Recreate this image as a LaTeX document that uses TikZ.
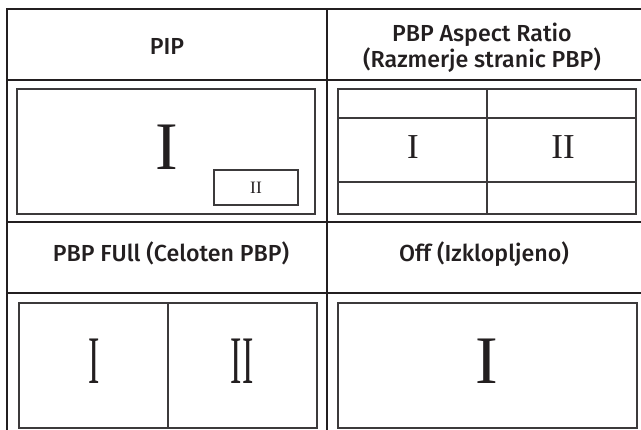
\documentclass[tikz,border=0pt]{standalone}
\usepackage{fontspec}
\usepackage{graphicx}
\setmainfont{Liberation Serif}
\setsansfont{Fira Sans}[BoldFont={Fira Sans Medium}]
\usetikzlibrary{positioning}
\definecolor{Ink}{HTML}{231F20}
\definecolor{Frame}{HTML}{3C3A3B}
\tikzset{
  table line/.style={draw=Ink,line width=1.1pt},
  screen box/.style={draw=Frame,line width=0.55pt},
  mode head/.style={font=\sffamily\bfseries\fontsize{11.6}{13}\selectfont,
    align=center,text=Ink,inner sep=0pt,anchor=base},
  numeral/.style={font=\fontsize{#1}{#1}\selectfont,text=Ink,inner sep=0pt}
}

\begin{document}
\begin{tikzpicture}[x=0.5pt,y=-0.5pt]
  \clip (0,0) rectangle (641,429);
  % table frame
  \draw[table line] (7,9) rectangle (647,436);
  \draw[table line] (327,9) -- (327,436);
  \draw[table line] (7,80) -- (647,80);
  \draw[table line] (7,222) -- (647,222);
  \draw[table line] (7,293) -- (647,293);
  % headers
  \node[mode head] (pip head) at (167,54) {PIP};
  \node[mode head] (aspect head) at (482,67) {PBP Aspect Ratio\\(Razmerje stranic PBP)};
  \node[mode head] (full head) at (171,261) {PBP FUll (Celoten PBP)};
  \node[mode head] (off head) at (484,261) {Off (Izklopljeno)};
  % PIP
  \draw[screen box] (17,89) rectangle (315,214);
  \draw[screen box] (214,170) rectangle (298,205);
  \node[numeral=34] (pip main) at (167,147) {I};
  \node[numeral=8.7] (pip sub) at (256,188) {II};
  % PBP aspect ratio
  \draw[screen box] (338,89) rectangle (636,214);
  \draw[screen box] (487,89) -- (487,214);
  \draw[screen box] (338,118) -- (636,118);
  \draw[screen box] (338,182) -- (636,182);
  \node[numeral=17.5] (aspect one) at (413,147) {I};
  \node[numeral=17.5] (aspect two) at (563,147) {II};
  % PBP full
  \draw[screen box] (19,303) rectangle (317,428);
  \draw[screen box] (168,303) -- (168,428);
  \node[numeral=34] (full one) at (94,361) {\scalebox{0.5}[1]{I}};
  \node[numeral=34] (full two) at (242,361) {\scalebox{0.5}[1]{II}};
  % off
  \draw[screen box] (338,303) rectangle (637,428);
  \node[numeral=34] (off main) at (487,361) {I};
\end{tikzpicture}
\end{document}
